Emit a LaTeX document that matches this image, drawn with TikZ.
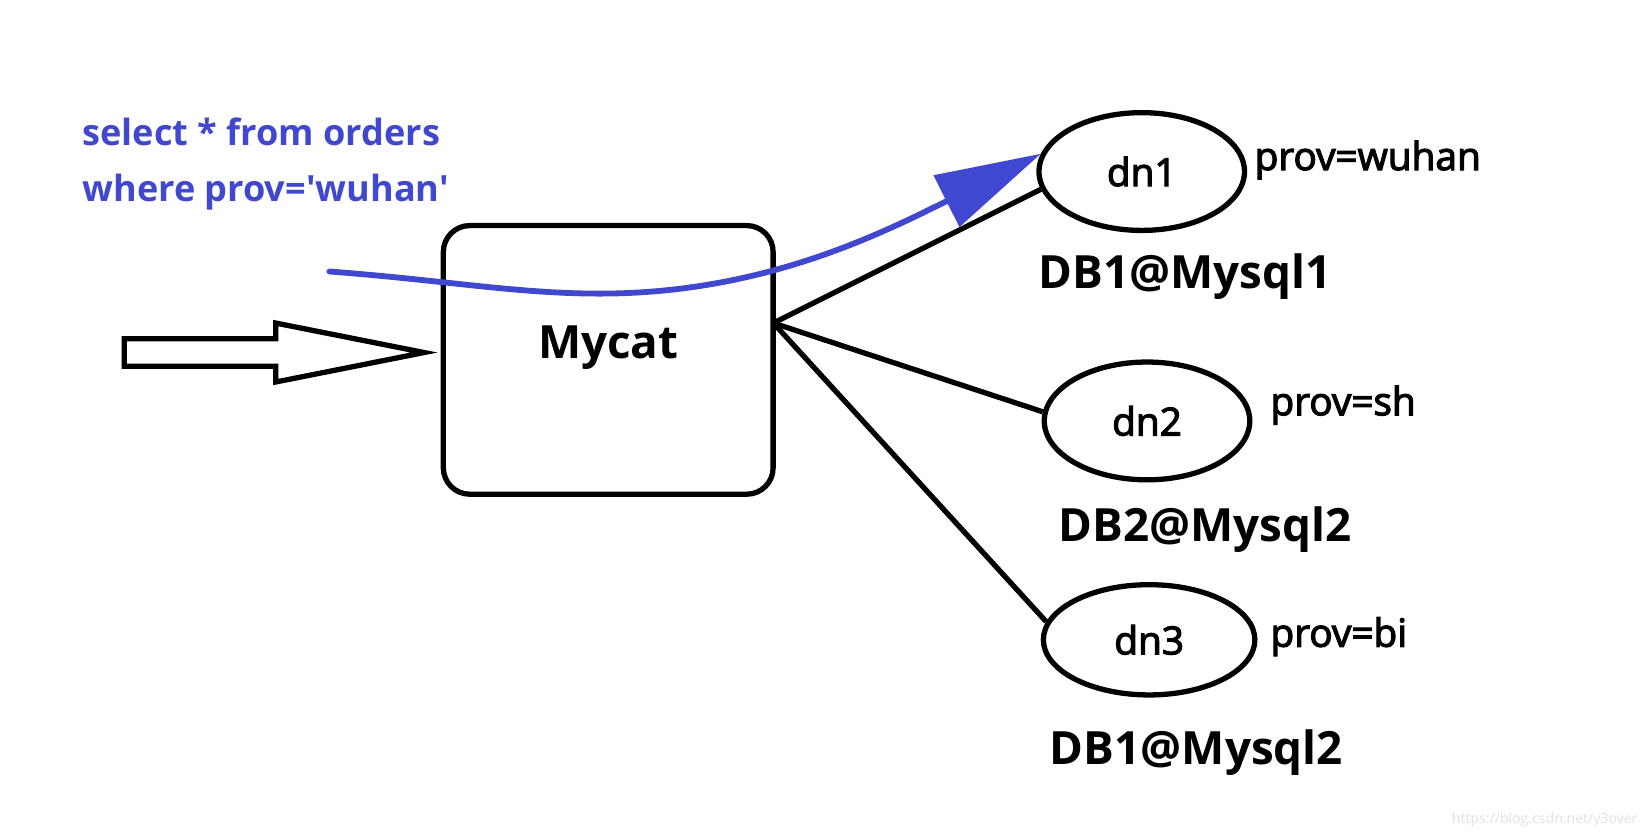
\documentclass[tikz,border=0pt]{standalone}
\usepackage{fontspec}
\setmainfont{Open Sans}
\newfontfamily\medfont[FakeBold=3]{Open Sans}
\usepackage{tikz}
\usetikzlibrary{shapes.geometric,arrows.meta}
\definecolor{sqlblue}{RGB}{63,72,207}

\begin{document}
\begin{tikzpicture}[x=0.021cm,y=-0.021cm]
	\tikzstyle{dnode}=[ellipse,draw=black,line width=3pt,minimum width=4.1cm,minimum height=2.35cm,font=\medfont\fontsize{22}{26}\selectfont]
	\tikzstyle{dblabel}=[font=\bfseries\fontsize{26}{30}\selectfont]
	\tikzstyle{provlabel}=[anchor=west,inner sep=0pt,font=\medfont\fontsize{22}{26}\selectfont]
	\tikzstyle{sqltext}=[anchor=west,inner sep=0pt,text=sqlblue,font=\bfseries\fontsize{20.5}{24}\selectfont]
	\useasboundingbox (0,0) rectangle (1568,796.4);
	% query
	\node[sqltext](sql1) at (78,125) {select * from orders};
	\node[sqltext](sql2) at (78,183) {where prov=\textquotesingle wuhan\textquotesingle};
	% mycat box
	\node[draw=black,line width=3pt,rounded corners=15pt,minimum width=6.58cm,minimum height=5.36cm](mycat) at (578,342) {};
	\node[dblabel](mycatlabel) at (578,330) {Mycat};
	% input arrow
	\draw[line width=3pt] (118,322) -- (262,322) -- (262,307) -- (403,335) -- (262,363) -- (262,348) -- (118,348) -- cycle;
	% data nodes
	\node[dnode](dn1) at (1085,163) {dn1};
	\node[dnode](dn2) at (1090,400) {dn2};
	\node[dnode,minimum width=4.22cm,minimum height=2.2cm](dn3) at (1092,608) {dn3};
	\node[provlabel](prov1) at (1192,152) {prov=wuhan};
	\node[provlabel](prov2) at (1207,385) {prov=sh};
	\node[provlabel](prov3) at (1207,605) {prov=bi};
	\node[dblabel](db1) at (1126,263) {DB1@Mysql1};
	\node[dblabel](db2) at (1145,503) {DB2@Mysql2};
	\node[dblabel](db3) at (1137,715) {DB1@Mysql2};
	% routes
	\coordinate (hub) at (735,307);
	\draw[line width=3pt] (hub) -- (dn1.190);
	\draw[line width=3pt] (hub) -- (dn2.175);
	\draw[line width=3pt] (hub) -- (dn3.170);
	\coordinate (qstart) at (313,258);
	\draw[sqlblue,line width=3.3pt,line cap=round,-{Triangle[length=60pt,width=32pt]}] (qstart) .. controls (420,266) and (490,279) .. (570,279) .. controls (720,279) and (830,226) .. (dn1.170);
	\node[anchor=east,text=black!12,font=\fontsize{8}{10}\selectfont](mark) at (1562,779) {https://blog.csdn.net/y3over};
\end{tikzpicture}
\end{document}
